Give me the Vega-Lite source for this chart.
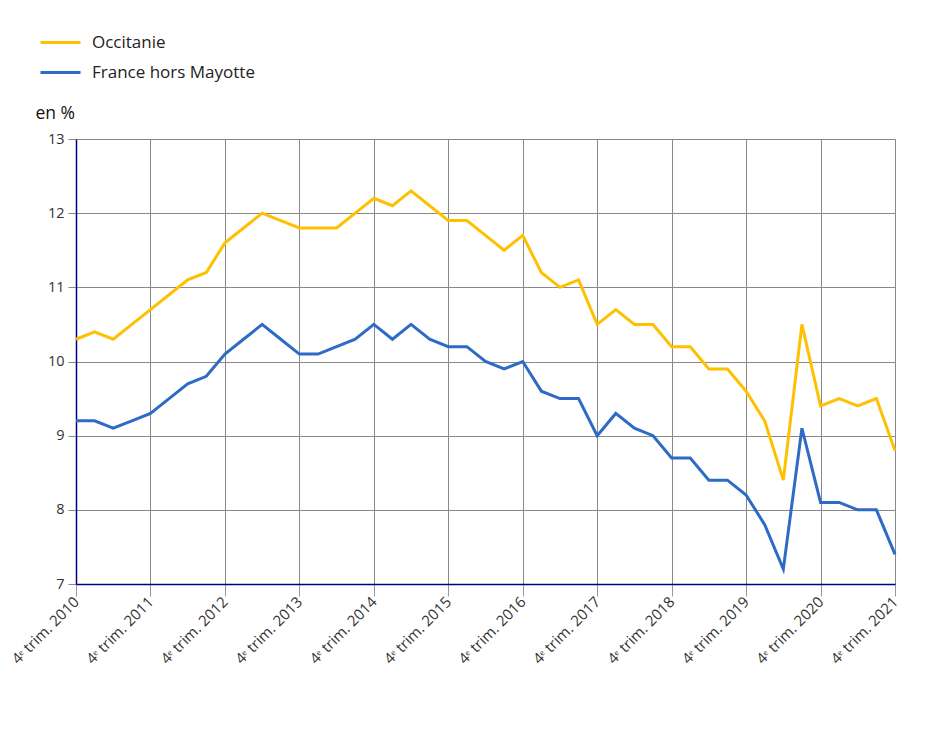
{
  "$schema": "https://vega.github.io/schema/vega-lite/v6.json",
  "width": 819,
  "height": 445,
  "autosize": {"type": "none"},
  "padding": {"left": 76, "top": 139, "right": 34, "bottom": 158},
  "background": "white",
  "config": {
    "font": "Open Sans",
    "view": {"stroke": null}
  },
  "data": {
    "values": [
      {"trimestre": "2010-T4", "Occitanie": 10.3, "France hors Mayotte": 9.2},
      {"trimestre": "2011-T1", "Occitanie": 10.4, "France hors Mayotte": 9.2},
      {"trimestre": "2011-T2", "Occitanie": 10.3, "France hors Mayotte": 9.1},
      {"trimestre": "2011-T3", "Occitanie": 10.5, "France hors Mayotte": 9.2},
      {"trimestre": "2011-T4", "Occitanie": 10.7, "France hors Mayotte": 9.3},
      {"trimestre": "2012-T1", "Occitanie": 10.9, "France hors Mayotte": 9.5},
      {"trimestre": "2012-T2", "Occitanie": 11.1, "France hors Mayotte": 9.7},
      {"trimestre": "2012-T3", "Occitanie": 11.2, "France hors Mayotte": 9.8},
      {"trimestre": "2012-T4", "Occitanie": 11.6, "France hors Mayotte": 10.1},
      {"trimestre": "2013-T1", "Occitanie": 11.8, "France hors Mayotte": 10.3},
      {"trimestre": "2013-T2", "Occitanie": 12.0, "France hors Mayotte": 10.5},
      {"trimestre": "2013-T3", "Occitanie": 11.9, "France hors Mayotte": 10.3},
      {"trimestre": "2013-T4", "Occitanie": 11.8, "France hors Mayotte": 10.1},
      {"trimestre": "2014-T1", "Occitanie": 11.8, "France hors Mayotte": 10.1},
      {"trimestre": "2014-T2", "Occitanie": 11.8, "France hors Mayotte": 10.2},
      {"trimestre": "2014-T3", "Occitanie": 12.0, "France hors Mayotte": 10.3},
      {"trimestre": "2014-T4", "Occitanie": 12.2, "France hors Mayotte": 10.5},
      {"trimestre": "2015-T1", "Occitanie": 12.1, "France hors Mayotte": 10.3},
      {"trimestre": "2015-T2", "Occitanie": 12.3, "France hors Mayotte": 10.5},
      {"trimestre": "2015-T3", "Occitanie": 12.1, "France hors Mayotte": 10.3},
      {"trimestre": "2015-T4", "Occitanie": 11.9, "France hors Mayotte": 10.2},
      {"trimestre": "2016-T1", "Occitanie": 11.9, "France hors Mayotte": 10.2},
      {"trimestre": "2016-T2", "Occitanie": 11.7, "France hors Mayotte": 10.0},
      {"trimestre": "2016-T3", "Occitanie": 11.5, "France hors Mayotte": 9.9},
      {"trimestre": "2016-T4", "Occitanie": 11.7, "France hors Mayotte": 10.0},
      {"trimestre": "2017-T1", "Occitanie": 11.2, "France hors Mayotte": 9.6},
      {"trimestre": "2017-T2", "Occitanie": 11.0, "France hors Mayotte": 9.5},
      {"trimestre": "2017-T3", "Occitanie": 11.1, "France hors Mayotte": 9.5},
      {"trimestre": "2017-T4", "Occitanie": 10.5, "France hors Mayotte": 9.0},
      {"trimestre": "2018-T1", "Occitanie": 10.7, "France hors Mayotte": 9.3},
      {"trimestre": "2018-T2", "Occitanie": 10.5, "France hors Mayotte": 9.1},
      {"trimestre": "2018-T3", "Occitanie": 10.5, "France hors Mayotte": 9.0},
      {"trimestre": "2018-T4", "Occitanie": 10.2, "France hors Mayotte": 8.7},
      {"trimestre": "2019-T1", "Occitanie": 10.2, "France hors Mayotte": 8.7},
      {"trimestre": "2019-T2", "Occitanie": 9.9, "France hors Mayotte": 8.4},
      {"trimestre": "2019-T3", "Occitanie": 9.9, "France hors Mayotte": 8.4},
      {"trimestre": "2019-T4", "Occitanie": 9.6, "France hors Mayotte": 8.2},
      {"trimestre": "2020-T1", "Occitanie": 9.2, "France hors Mayotte": 7.8},
      {"trimestre": "2020-T2", "Occitanie": 8.4, "France hors Mayotte": 7.2},
      {"trimestre": "2020-T3", "Occitanie": 10.5, "France hors Mayotte": 9.1},
      {"trimestre": "2020-T4", "Occitanie": 9.4, "France hors Mayotte": 8.1},
      {"trimestre": "2021-T1", "Occitanie": 9.5, "France hors Mayotte": 8.1},
      {"trimestre": "2021-T2", "Occitanie": 9.4, "France hors Mayotte": 8.0},
      {"trimestre": "2021-T3", "Occitanie": 9.5, "France hors Mayotte": 8.0},
      {"trimestre": "2021-T4", "Occitanie": 8.8, "France hors Mayotte": 7.4}
    ]
  },
  "transform": [
    {"fold": ["Occitanie", "France hors Mayotte"], "as": ["serie", "taux"]}
  ],
  "mark": {"type": "line", "strokeWidth": 3, "strokeJoin": "miter"},
  "encoding": {
    "x": {
      "field": "trimestre",
      "type": "ordinal",
      "sort": null,
      "scale": {"type": "point", "padding": 0},
      "axis": {
        "title": null,
        "values": ["2010-T4", "2011-T4", "2012-T4", "2013-T4", "2014-T4", "2015-T4", "2016-T4", "2017-T4", "2018-T4", "2019-T4", "2020-T4", "2021-T4"],
        "labelExpr": "'4ᵉ trim. ' + slice(datum.value, 0, 4)",
        "labelAngle": -45,
        "labelAlign": "right",
        "labelBaseline": "middle",
        "labelFontSize": 15,
        "labelColor": "#333333",
        "labelPadding": 3,
        "labelLimit": 300,
        "grid": true,
        "gridColor": "#888888",
        "gridWidth": 1,
        "domainColor": "#000080",
        "domainWidth": 1.5,
        "tickColor": "#999999",
        "tickSize": 12
      }
    },
    "y": {
      "field": "taux",
      "type": "quantitative",
      "scale": {"domain": [7, 13], "nice": false, "zero": false},
      "axis": {
        "values": [7, 8, 9, 10, 11, 12, 13],
        "title": "en %",
        "titleAngle": 0,
        "titleAlign": "left",
        "titleBaseline": "alphabetic",
        "titleX": -41,
        "titleY": -21,
        "titleFontSize": 17.5,
        "titleFontWeight": "normal",
        "titleColor": "#111111",
        "labelFontSize": 14.5,
        "labelColor": "#333333",
        "labelPadding": 4,
        "grid": true,
        "gridColor": "#888888",
        "gridWidth": 1,
        "domainColor": "#000080",
        "domainWidth": 1.5,
        "tickColor": "#888888",
        "tickSize": 8
      }
    },
    "color": {
      "field": "serie",
      "type": "nominal",
      "sort": ["Occitanie", "France hors Mayotte"],
      "scale": {"domain": ["Occitanie", "France hors Mayotte"], "range": ["#FFC000", "#2E6BC6"]},
      "legend": {
        "title": null,
        "orient": "none",
        "legendX": -37,
        "legendY": -118,
        "symbolType": "stroke",
        "symbolSize": 1600,
        "symbolStrokeWidth": 3,
        "labelFontSize": 17,
        "labelColor": "#222222",
        "labelOffset": 10,
        "labelLimit": 400,
        "rowPadding": -11
      }
    }
  }
}
